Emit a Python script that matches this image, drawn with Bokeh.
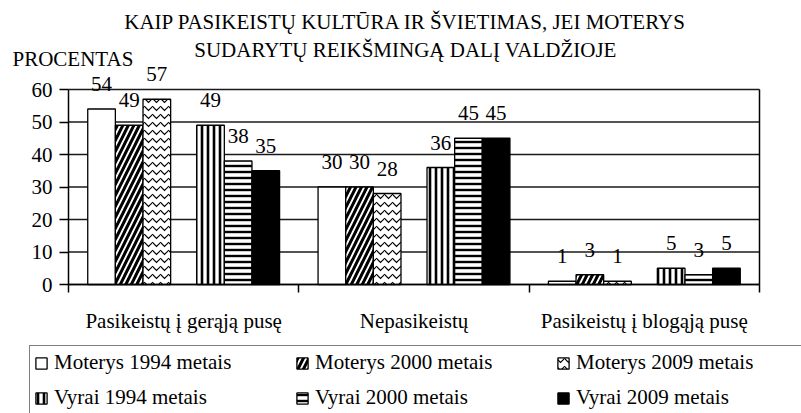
import numpy as np
from bokeh.plotting import figure
from bokeh.models import (ColumnDataSource, LabelSet, Label, Legend, LegendItem,
                          FixedTicker, Range1d, LinearAxis)
from bokeh.embed import file_html
from bokeh.resources import INLINE

# ---------------- data ----------------
categories = ["Pasikeistų į gerąją pusę", "Nepasikeistų", "Pasikeistų į blogąją pusę"]
series_names = ["Moterys 1994 metais", "Moterys 2000 metais", "Moterys 2009 metais",
                "Vyrai 1994 metais", "Vyrai 2000 metais", "Vyrai 2009 metais"]
moterys_1994 = [54, 30, 1]
moterys_2000 = [49, 30, 3]
moterys_2009 = [57, 28, 1]
vyrai_1994 = [49, 36, 5]
vyrai_2000 = [38, 45, 3]
vyrai_2009 = [35, 45, 5]
y_ticks = [0, 10, 20, 30, 40, 50, 60]
title_lines = ["KAIP PASIKEISTŲ KULTŪRA IR ŠVIETIMAS, JEI MOTERYS",
               "SUDARYTŲ REIKŠMINGĄ DALĮ VALDŽIOJE"]
y_axis_title = "PROCENTAS"

series_values = [moterys_1994, moterys_2000, moterys_2009,
                 vyrai_1994, vyrai_2000, vyrai_2009]

# ---------------- styles ----------------
FONT = "Liberation Serif"
FS = "21px"
W, H = 801, 413
# plot-area placement in pixels (frame spans the whole canvas; axes are fixed inside)
AX_LEFT, AX_RIGHT, AX_TOP, AX_BOTTOM = 68, 759, 89, 284
n_cat = len(categories)
y_max = y_ticks[-1]
xs = (AX_RIGHT - AX_LEFT) / n_cat          # px per category
ys = (AX_BOTTOM - AX_TOP) / y_max          # px per unit
x_range = Range1d(-AX_LEFT / xs, n_cat + (W - AX_RIGHT) / xs)
y_range = Range1d(-(H - AX_BOTTOM) / ys, y_max + AX_TOP / ys)

def px_x(px):
    return (px - AX_LEFT) / xs

def px_y(py):
    return (AX_BOTTOM - py) / ys

bar_w = 0.12
offsets = [-0.3565, -0.2365, -0.1165, 0.1165, 0.2365, 0.3565]
styles = [
    dict(fill_color="white"),
    dict(fill_color="white", hatch_pattern="/", hatch_scale=11, hatch_weight=3, hatch_color="black"),
    dict(fill_color="white", hatch_pattern="v", hatch_scale=8, hatch_weight=1.2, hatch_color="black"),
    dict(fill_color="white", hatch_pattern="|", hatch_scale=6, hatch_weight=2.6, hatch_color="black"),
    dict(fill_color="white", hatch_pattern="-", hatch_scale=6, hatch_weight=2.4, hatch_color="black"),
    dict(fill_color="black"),
]

p = figure(width=W, height=H, output_backend="svg", toolbar_location=None,
           x_range=x_range, y_range=y_range, title=None, min_border=0,
           x_axis_type=None, y_axis_type=None)
p.min_border_left = p.min_border_right = p.min_border_top = p.min_border_bottom = 0
p.background_fill_color = "white"
p.border_fill_color = "white"
p.outline_line_color = None
p.xgrid.visible = False
p.ygrid.visible = False

# horizontal gridlines across the category span
p.segment(x0=0, x1=n_cat, y0=y_ticks, y1=y_ticks, line_color="#1a1a1a",
          line_width=1.3, level="underlay")

cat_centers = np.arange(n_cat) + 0.5
legend_items = []
for name, vals, off, st in zip(series_names, series_values, offsets, styles):
    src = ColumnDataSource(dict(x=cat_centers + off, top=vals,
                                lbl=[str(v) for v in vals]))
    r = p.vbar(x="x", top="top", width=bar_w, source=src,
               line_color="black", line_width=1.3, **st)
    legend_items.append(LegendItem(label=name, renderers=[r]))
    p.add_layout(LabelSet(x="x", y="top", text="lbl", source=src,
                          text_align="center", text_baseline="alphabetic",
                          y_offset=18, text_font=FONT, text_font_size=FS,
                          text_color="black"))

# y axis (fixed at x=0)
yax = LinearAxis(fixed_location=0, bounds=(0, y_max),
                 ticker=FixedTicker(ticks=y_ticks))
yax.major_tick_out = 9
yax.major_tick_in = 0
yax.minor_tick_line_color = None
yax.major_label_standoff = 7
yax.axis_line_width = 1.5
yax.major_tick_line_width = 1.5
yax.major_label_text_font = FONT
yax.major_label_text_font_size = FS
yax.major_label_text_color = "black"
p.add_layout(yax, "left")

# right frame border
rax = LinearAxis(fixed_location=n_cat, bounds=(0, y_max),
                 ticker=FixedTicker(ticks=[]))
rax.major_tick_line_color = None
rax.minor_tick_line_color = None
rax.major_label_text_font_size = "0px"
rax.axis_line_width = 1.5
p.add_layout(rax, "right")

# x axis (fixed at y=0)
xax = LinearAxis(fixed_location=0, bounds=(0, n_cat),
                 ticker=FixedTicker(ticks=list(cat_centers),
                                    minor_ticks=list(range(n_cat + 1))))
xax.major_label_overrides = {float(c): lab for c, lab in zip(cat_centers, categories)}
xax.major_tick_line_color = None
xax.major_tick_out = 0
xax.major_tick_in = 0
xax.minor_tick_out = 8
xax.minor_tick_in = 0
xax.minor_tick_line_color = "black"
xax.minor_tick_line_width = 1.5
xax.axis_line_width = 1.5
xax.major_label_standoff = 16
xax.major_label_text_font = FONT
xax.major_label_text_font_size = FS
xax.major_label_text_color = "black"
p.add_layout(xax, "below")

# titles
title_x = px_x(405)
p.add_layout(Label(x=title_x, y=px_y(21), text=title_lines[0], text_align="center",
                   text_baseline="alphabetic", text_font=FONT, text_font_size=FS,
                   text_color="black"))
p.add_layout(Label(x=title_x, y=px_y(49), text=title_lines[1], text_align="center",
                   text_baseline="alphabetic", text_font=FONT, text_font_size=FS,
                   text_color="black"))
p.add_layout(Label(x=px_x(12), y=px_y(58), text=y_axis_title, text_align="left",
                   text_baseline="alphabetic", text_font=FONT, text_font_size=FS,
                   text_color="black"))

legend = Legend(items=legend_items, orientation="horizontal", ncols=3,
                location=(29, -2),
                glyph_width=14, glyph_height=14, label_standoff=6,
                label_width=231, label_height=24, spacing=10, padding=4,
                label_text_font=FONT, label_text_font_size=FS, label_text_color="black",
                border_line_color="black", border_line_width=1.5,
                background_fill_color="white", background_fill_alpha=1.0)
p.add_layout(legend)

open("out.html", "w").write(file_html(p, INLINE))
